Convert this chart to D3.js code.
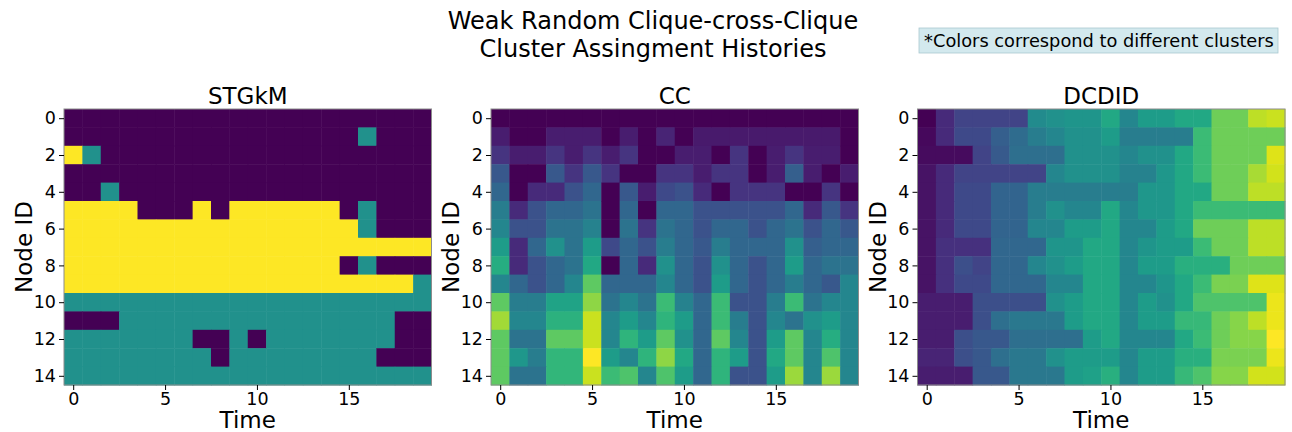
<!DOCTYPE html>
<html>
<head>
<meta charset="utf-8">
<style>
  body { margin: 0; background: #fff; }
  text { font-family: "DejaVu Sans", sans-serif; fill: #000; }
  .tick text { font-size: 17.5px; }
  .tick line { stroke: #000; }
  .domain { display: none; }
</style>
</head>
<body>
<svg width="1292" height="432"></svg>
<script src="https://d3js.org/d3.v7.min.js"></script>
<script>

var timeTicks = [0, 5, 10, 15];
var nodeTicks = [0, 2, 4, 6, 8, 10, 12, 14];
var nTimes = 20, nNodes = 15;

// STGkM: cluster id per node (rows) and time (cols), 3 clusters
var stgkm = [
  [0,0,0,0,0,0,0,0,0,0,0,0,0,0,0,0,0,0,0,0],
  [0,0,0,0,0,0,0,0,0,0,0,0,0,0,0,0,1,0,0,0],
  [2,1,0,0,0,0,0,0,0,0,0,0,0,0,0,0,0,0,0,0],
  [0,0,0,0,0,0,0,0,0,0,0,0,0,0,0,0,0,0,0,0],
  [0,0,1,0,0,0,0,0,0,0,0,0,0,0,0,0,0,0,0,0],
  [2,2,2,2,0,0,0,2,0,2,2,2,2,2,2,0,1,0,0,0],
  [2,2,2,2,2,2,2,2,2,2,2,2,2,2,2,2,1,0,0,0],
  [2,2,2,2,2,2,2,2,2,2,2,2,2,2,2,2,2,2,2,2],
  [2,2,2,2,2,2,2,2,2,2,2,2,2,2,2,0,1,0,0,0],
  [2,2,2,2,2,2,2,2,2,2,2,2,2,2,2,2,2,2,2,1],
  [1,1,1,1,1,1,1,1,1,1,1,1,1,1,1,1,1,1,1,1],
  [0,0,0,1,1,1,1,1,1,1,1,1,1,1,1,1,1,1,0,0],
  [1,1,1,1,1,1,1,0,0,1,0,1,1,1,1,1,1,1,0,0],
  [1,1,1,1,1,1,1,1,0,1,1,1,1,1,1,1,1,0,0,0],
  [1,1,1,1,1,1,1,1,1,1,1,1,1,1,1,1,1,1,1,1]
];

// CC: normalised cluster label
var cc = [
  [0,0,0,0,0,0,0,0,0,0,0,0,0,0,0,0,0,0,0,0],
  [.08,0,0,.08,.08,.08,0,.08,0,.1,0,.07,.07,.07,.07,.07,.07,.07,.07,0],
  [.15,.08,.08,.15,.08,.15,.08,.15,0,0,.08,.08,0,.15,0,.08,.15,.08,.08,0],
  [.27,0,0,.27,.15,.27,.15,0,0,.15,.15,.08,.15,.15,0,.08,.3,.08,0,.08],
  [.33,0,.12,.12,.25,.33,0,.27,.08,.22,.25,.12,0,.15,.15,.15,0,0,.15,0],
  [.42,.12,.25,.33,.33,.38,0,.33,0,.33,.33,.25,.25,.25,.25,.25,.33,.12,.27,.15],
  [.46,.25,.25,.38,.38,.44,0,.38,.15,.38,.33,.25,.33,.33,.25,.33,.38,.25,.33,.27],
  [.55,.12,.33,.5,.38,.55,.22,.33,.25,.42,.33,.27,.42,.33,.33,.33,.5,.3,.33,.33],
  [.62,.12,.25,.33,.38,.6,0,.33,.12,.5,.33,.25,.5,.33,.25,.33,.55,.33,.38,.38],
  [.46,.33,.25,.33,.46,.75,.33,.33,.33,.46,.33,.25,.55,.33,.25,.33,.42,.33,.27,.46],
  [.75,.42,.42,.58,.58,.83,.38,.46,.38,.68,.44,.33,.68,.25,.25,.42,.68,.38,.46,.46],
  [.86,.46,.46,.64,.64,.92,.46,.55,.46,.65,.55,.33,.68,.42,.25,.46,.38,.5,.55,.46],
  [.75,.38,.38,.75,.75,.92,.46,.65,.55,.75,.5,.33,.75,.46,.25,.55,.75,.46,.62,.46],
  [.75,.53,.42,.66,.66,1,.55,.46,.65,.83,.6,.33,.65,.55,.25,.6,.75,.46,.72,.46],
  [.75,.38,.38,.66,.66,.92,.68,.72,.46,.72,.55,.33,.65,.25,.25,.55,.85,.46,.85,.46]
];

// DCDID: normalised cluster label
var dcdid = [
  [0,.12,.2,.2,.2,.2,.48,.5,.52,.52,.6,.46,.55,.55,.6,.6,.78,.78,.9,.92],
  [.02,.12,.22,.22,.3,.35,.42,.46,.5,.5,.55,.42,.42,.42,.42,.68,.78,.78,.78,.78],
  [.03,.03,.03,.2,.28,.36,.36,.36,.5,.5,.5,.46,.5,.5,.6,.68,.78,.78,.78,.95],
  [.05,.12,.2,.2,.2,.2,.2,.46,.5,.5,.5,.44,.44,.53,.6,.68,.78,.78,.87,.93],
  [.05,.12,.22,.22,.32,.32,.42,.42,.42,.42,.42,.42,.53,.53,.6,.6,.78,.78,.9,.9],
  [.05,.12,.22,.22,.32,.32,.42,.5,.46,.46,.6,.46,.53,.53,.6,.68,.68,.68,.68,.68],
  [.05,.12,.22,.22,.32,.32,.46,.46,.55,.55,.6,.46,.46,.55,.6,.78,.78,.78,.9,.9],
  [.05,.14,.14,.14,.33,.33,.33,.52,.52,.6,.6,.46,.52,.55,.55,.68,.78,.78,.9,.9],
  [.05,.14,.24,.2,.33,.33,.46,.5,.55,.6,.6,.46,.55,.55,.63,.63,.63,.78,.78,.78],
  [.05,.14,.22,.22,.33,.33,.33,.46,.46,.6,.6,.46,.46,.52,.6,.68,.8,.8,.95,.95],
  [.08,.08,.08,.24,.24,.24,.24,.5,.55,.6,.6,.46,.55,.5,.6,.72,.72,.72,.72,.97],
  [.08,.08,.08,.24,.36,.4,.4,.4,.55,.6,.6,.46,.55,.55,.67,.67,.78,.82,.9,.97],
  [.08,.08,.24,.27,.27,.36,.36,.36,.36,.55,.6,.46,.46,.46,.6,.68,.78,.82,.82,1],
  [.1,.1,.24,.27,.36,.4,.4,.5,.55,.55,.55,.46,.55,.55,.63,.63,.8,.8,.8,.97],
  [.08,.08,.08,.27,.27,.4,.4,.4,.55,.57,.63,.46,.55,.55,.67,.72,.82,.82,.93,.93]
];

var panels = [
  {title: "STGkM", data: stgkm, max: 2, left: 64},
  {title: "CC", data: cc, max: 1, left: 491},
  {title: "DCDID", data: dcdid, max: 1, left: 917.5}
];

var plotTop = 109, pw = 367.5, ph = 276;
var svg = d3.select("svg");

// suptitle
svg.append("text").attr("x", 653).attr("y", 29).attr("text-anchor", "middle")
  .style("font-size", "24px").text("Weak Random Clique-cross-Clique");
svg.append("text").attr("x", 653).attr("y", 57).attr("text-anchor", "middle")
  .style("font-size", "24px").text("Cluster Assingment Histories");

// note box
svg.append("rect").attr("x", 919).attr("y", 28).attr("width", 359).attr("height", 25)
  .attr("fill", "#d3e9ee").attr("stroke", "#aac8d0").attr("stroke-width", 0.8);
svg.append("text").attr("x", 1099).attr("y", 47).attr("text-anchor", "middle")
  .style("font-size", "17.8px").text("*Colors correspond to different clusters");

panels.forEach(function(p) {
  var x = d3.scaleLinear().domain([-0.5, nTimes - 0.5]).range([0, pw]);
  var y = d3.scaleLinear().domain([-0.5, nNodes - 0.5]).range([0, ph]);
  var color = d3.scaleSequential(d3.interpolateViridis).domain([0, p.max]);

  var g = svg.append("g").attr("transform", "translate(" + p.left + "," + plotTop + ")");

  var cells = [];
  p.data.forEach(function(row, i) {
    row.forEach(function(v, t) { cells.push({node: i, time: t, v: v}); });
  });

  g.selectAll("rect.cell").data(cells).enter().append("rect")
    .attr("class", "cell")
    .attr("x", function(d) { return x(d.time - 0.5); })
    .attr("y", function(d) { return y(d.node - 0.5); })
    .attr("width", x(1) - x(0) + 0.5)
    .attr("height", y(1) - y(0) + 0.5)
    .attr("fill", function(d) { return color(d.v); });

  g.append("rect").attr("width", pw).attr("height", ph)
    .attr("fill", "none").attr("stroke", "#8c8c8c").attr("stroke-width", 1);

  g.append("g").attr("transform", "translate(0," + ph + ")")
    .call(d3.axisBottom(x).tickValues(timeTicks).tickSize(5).tickPadding(3));
  g.append("g")
    .call(d3.axisLeft(y).tickValues(nodeTicks).tickSize(5).tickPadding(3));

  g.append("text").attr("x", pw / 2).attr("y", -5).attr("text-anchor", "middle")
    .style("font-size", "23px").text(p.title);
  g.append("text").attr("x", pw / 2).attr("y", ph + 43).attr("text-anchor", "middle")
    .style("font-size", "23px").text("Time");
  g.append("text").attr("transform", "translate(-32," + (ph / 2) + ") rotate(-90)")
    .attr("text-anchor", "middle")
    .style("font-size", "23px").text("Node ID");
});

</script>
</body>
</html>
